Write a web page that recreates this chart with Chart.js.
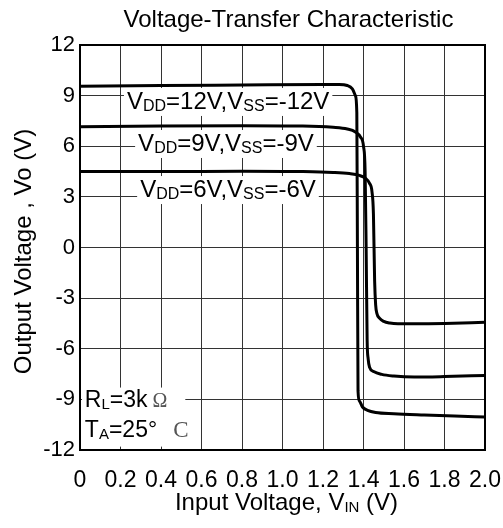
<!DOCTYPE html>
<html>
<head>
<meta charset="utf-8">
<script src="https://cdn.jsdelivr.net/npm/chart.js@4.4.1/dist/chart.umd.min.js"></script>
<style>
  html, body { margin: 0; padding: 0; background: #fff; }
  #box { width: 503px; height: 528px; }
</style>
</head>
<body>
<div id="box"><canvas id="vtc"></canvas></div>
<script>
// tick labels
let xTickLabels = ['0', '0.2', '0.4', '0.6', '0.8', '1.0', '1.2', '1.4', '1.6', '1.8', '2.0'];
let yTickValues = [-12, -9, -6, -3, 0, 3, 6, 9, 12];

// VDD=12V, VSS=-12V
let vin12 = [0, 0.4, 0.8, 1.2, 1.28, 1.32, 1.345, 1.36, 1.367, 1.37, 1.373, 1.38, 1.395, 1.42, 1.46, 1.55, 1.7, 1.85, 2.0];
let vo12 = [9.55, 9.6, 9.63, 9.66, 9.66, 9.6, 9.4, 9.0, 8.0, 0, -8.5, -9.1, -9.45, -9.65, -9.78, -9.85, -9.92, -9.98, -10.05];

// VDD=9V, VSS=-9V
let vin9 = [0, 0.4, 0.8, 1.1, 1.25, 1.32, 1.36, 1.385, 1.4, 1.408, 1.413, 1.418, 1.423, 1.43, 1.45, 1.49, 1.55, 1.65, 1.8, 2.0];
let vo9 = [7.15, 7.2, 7.22, 7.2, 7.12, 7.02, 6.85, 6.55, 6.0, 4.5, 0, -5.5, -6.6, -7.1, -7.35, -7.52, -7.62, -7.68, -7.65, -7.58];

// VDD=6V, VSS=-6V
let vin6 = [0, 0.4, 0.8, 1.1, 1.25, 1.33, 1.38, 1.41, 1.43, 1.442, 1.449, 1.455, 1.46, 1.466, 1.48, 1.5, 1.53, 1.57, 1.65, 1.8, 2.0];
let vo6 = [4.5, 4.5, 4.52, 4.5, 4.45, 4.38, 4.27, 4.1, 3.8, 3.3, 2.0, -2.0, -3.4, -3.9, -4.2, -4.38, -4.48, -4.52, -4.52, -4.5, -4.43];

// curve labels: [text, sub?]
let label12 = [['V', 0], ['DD', 1], ['=12V,V', 0], ['SS', 1], ['=-12V', 0]];
let label9 = [['V', 0], ['DD', 1], ['=9V,V', 0], ['SS', 1], ['=-9V', 0]];
let label6 = [['V', 0], ['DD', 1], ['=6V,V', 0], ['SS', 1], ['=-6V', 0]];

const SANS = '"Liberation Sans", Arial, sans-serif';
const SERIF = '"Liberation Serif", "DejaVu Serif", serif';

function toPoints(xs, ys) {
    let pts = [];
    for (let i = 0; i < xs.length; i++) {
        pts.push({x: xs[i], y: ys[i]});
    }
    return pts;
}

function richWidth(ctx, parts, size, subSize) {
    let w = 0;
    for (let p of parts) {
        ctx.font = (p[1] ? subSize : size) + 'px ' + SANS;
        w += ctx.measureText(p[0]).width;
    }
    return w;
}

function drawRich(ctx, parts, x, y, size, subSize) {
    ctx.textBaseline = 'alphabetic';
    ctx.textAlign = 'left';
    for (let p of parts) {
        ctx.font = (p[1] ? subSize : size) + 'px ' + SANS;
        ctx.fillText(p[0], x, p[1] ? y + 2 : y);
        x += ctx.measureText(p[0]).width;
    }
    return x;
}

const decorations = {
    id: 'decorations',
    beforeDatasetsDraw(chart) {
        const ctx = chart.ctx;
        const xs = chart.scales.x, ys = chart.scales.y;
        ctx.save();
        ctx.fillStyle = '#fff';
        // white boxes behind labels
        let labels = [[label12, 0.232, 8.21], [label9, 0.287, 5.72], [label6, 0.297, 2.99]];
        for (let l of labels) {
            let px = xs.getPixelForValue(l[1]);
            let py = ys.getPixelForValue(l[2]);
            let w = richWidth(ctx, l[0], 24, 16);
            ctx.fillStyle = '#fff';
            ctx.fillRect(px - 3, py - 21, w + 6, 28);
        }
        let rx = xs.getPixelForValue(0.01), ry = ys.getPixelForValue(-8.3);
        ctx.fillRect(rx, ry, xs.getPixelForValue(0.52) - rx, ys.getPixelForValue(-11.8) - ry);

        ctx.fillStyle = '#000';
        for (let l of labels) {
            drawRich(ctx, l[0], xs.getPixelForValue(l[1]), ys.getPixelForValue(l[2]), 24, 16);
        }
        // RL and TA notes
        let nx = xs.getPixelForValue(0.024);
        let e = drawRich(ctx, [['R', 0], ['L', 1], ['=3k', 0]], nx, ys.getPixelForValue(-9.45), 23, 15);
        ctx.font = '20px ' + SERIF;
        ctx.fillStyle = '#555';
        ctx.fillText('\u03A9', e + 5, ys.getPixelForValue(-9.45));
        ctx.fillStyle = '#000';
        e = drawRich(ctx, [['T', 0], ['A', 1], ['=25\u00B0', 0]], nx, ys.getPixelForValue(-11.23), 23, 15);
        ctx.font = '23px ' + SERIF;
        ctx.fillStyle = '#555';
        ctx.fillText('C', e + 16, ys.getPixelForValue(-11.23));
        ctx.restore();
    },
    afterDraw(chart) {
        const ctx = chart.ctx;
        const a = chart.chartArea;
        ctx.save();
        // plot frame
        ctx.strokeStyle = '#000';
        ctx.lineWidth = 2;
        ctx.strokeRect(a.left, a.top, a.right - a.left, a.bottom - a.top);
        // title
        ctx.fillStyle = '#000';
        ctx.font = '24px ' + SANS;
        ctx.textAlign = 'center';
        ctx.textBaseline = 'alphabetic';
        ctx.fillText('Voltage-Transfer Characteristic', (a.left + a.right) / 2 + 6, 27);
        // x axis title
        let xt = [['Input Voltage, V', 0], ['IN', 1], [' (V)', 0]];
        let w = richWidth(ctx, xt, 24, 15);
        drawRich(ctx, xt, (a.left + a.right) / 2 + 4 - w / 2, 510, 24, 15);
        // y axis title
        ctx.translate(31, (a.top + a.bottom) / 2 + 4);
        ctx.rotate(-Math.PI / 2);
        ctx.font = '24px ' + SANS;
        ctx.textAlign = 'center';
        ctx.fillText('Output Voltage , Vo (V)', 0, 0);
        ctx.restore();
    }
};

const vtcChart = new Chart('vtc', {
    type: 'line',
    data: {
        datasets: [
            { data: toPoints(vin12, vo12) },
            { data: toPoints(vin9, vo9) },
            { data: toPoints(vin6, vo6) }
        ]
    },
    options: {
        responsive: true,
        maintainAspectRatio: false,
        animation: false,
        layout: { padding: { top: 45, right: 18, left: 0, bottom: 0 } },
        elements: {
            line: { borderColor: '#000', borderWidth: 3, cubicInterpolationMode: 'monotone', fill: false },
            point: { radius: 0, hoverRadius: 0 }
        },
        scales: {
            x: {
                type: 'linear',
                min: 0,
                max: 2,
                afterFit: (s) => { s.height = 78; s.paddingLeft = 0; s.paddingRight = 0; },
                afterBuildTicks: (s) => { s.ticks = xTickLabels.map((t, i) => ({value: i * 0.2})); },
                ticks: {
                    color: '#000',
                    font: { family: SANS, size: 23 },
                    padding: 17,
                    maxRotation: 0,
                    autoSkip: false,
                    callback: (v, i) => xTickLabels[i]
                },
                grid: { color: '#333', lineWidth: 1, drawTicks: false },
                border: { display: false }
            },
            y: {
                type: 'linear',
                min: -12,
                max: 12,
                afterFit: (s) => { s.width = 80; s.paddingTop = 0; s.paddingBottom = 0; },
                afterBuildTicks: (s) => { s.ticks = yTickValues.map(v => ({value: v})); },
                ticks: {
                    color: '#000',
                    font: { family: SANS, size: 22 },
                    padding: 5,
                    autoSkip: false
                },
                grid: { color: '#333', lineWidth: 1, drawTicks: false },
                border: { display: false }
            }
        },
        plugins: {
            legend: { display: false },
            tooltip: { enabled: false }
        }
    },
    plugins: [decorations]
});
</script>
</body>
</html>
